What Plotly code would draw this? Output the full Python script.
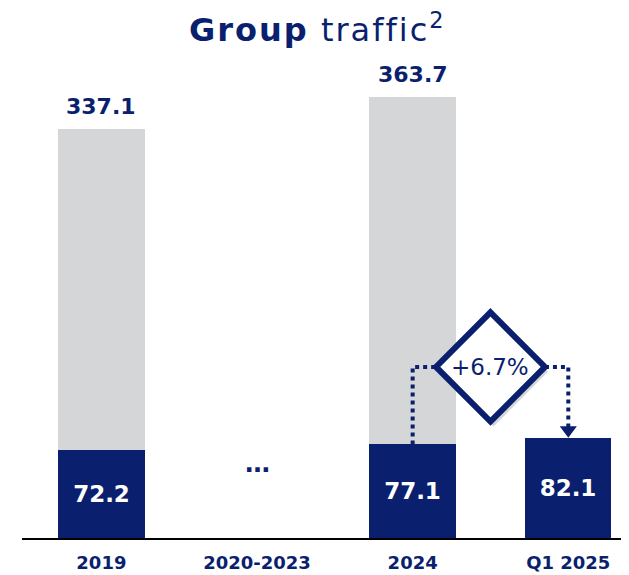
import plotly.graph_objects as go

categories = ["2019", "2020-2023", "2024", "Q1 2025"]
full_year = [337.1, None, 363.7, None]
q1_traffic = [72.2, None, 77.1, 82.1]
growth_label = "+6.7%"

NAVY = "#0b1f6f"
GRAY = "#d5d6d8"
FONT = "DejaVu Sans"

x = list(range(len(categories)))
bar_w = 0.555

fig = go.Figure()

# full-year grey bars (behind)
fig.add_trace(go.Bar(
    x=x, y=full_year, width=bar_w, marker=dict(color=GRAY, line=dict(width=0)),
    hoverinfo="skip",
))
# Q1 navy bars
fig.add_trace(go.Bar(
    x=x, y=q1_traffic, width=bar_w, marker=dict(color=NAVY, line=dict(width=0)),
    text=[f"<b>{v}</b>" if v else "" for v in q1_traffic],
    textposition="inside", insidetextanchor="middle",
    textfont=dict(color="white", size=23, family=FONT),
    hoverinfo="skip",
))

# full-year totals above the grey bars
for xi, v in zip(x, full_year):
    if v:
        fig.add_annotation(x=xi, y=v, text=f"<b>{v}</b>", showarrow=False, yanchor="bottom",
                           yshift=8, font=dict(color=NAVY, size=22, family=FONT))

# "..." placeholder for the gap years
fig.add_annotation(x=1, y=q1_traffic[0] * 0.85, text="<b>…</b>", showarrow=False,
                   font=dict(color=NAVY, size=25, family=FONT))

# growth connector: 2024 Q1 -> Q1 2025
x0, x1 = 2, 3
y0, y1 = q1_traffic[2], q1_traffic[3]
yc = 141
xm = (x0 + x1) / 2
hw, hh = 0.35, 45

dot = dict(color=NAVY, width=4, dash="dot")
fig.add_shape(type="path", path=f"M {x0},{y0} L {x0},{yc} L {xm - hw},{yc}", line=dot, layer="above")
fig.add_shape(type="path", path=f"M {xm + hw},{yc} L {x1},{yc} L {x1},{y1 + 9}", line=dot, layer="above")
fig.add_shape(type="path",
              path=f"M {x1 - 0.055},{y1 + 10} L {x1 + 0.055},{y1 + 10} L {x1},{y1 + 0.5} Z",
              fillcolor=NAVY, line=dict(width=0), layer="above")

# diamond shadow + diamond
sx, sy = 0.02, -4
fig.add_shape(type="path",
              path=f"M {xm + sx},{yc + hh + sy} L {xm + hw + sx},{yc + sy} L {xm + sx},{yc - hh + sy} L {xm - hw + sx},{yc + sy} Z",
              fillcolor="rgba(0,0,0,0.16)", line=dict(width=0), layer="above")
fig.add_shape(type="path",
              path=f"M {xm},{yc + hh} L {xm + hw},{yc} L {xm},{yc - hh} L {xm - hw},{yc} Z",
              fillcolor="white", line=dict(color=NAVY, width=6), layer="above")
fig.add_annotation(x=xm, y=yc, text=growth_label, showarrow=False,
                   font=dict(color=NAVY, size=23, family=FONT))

# title
fig.add_annotation(xref="paper", yref="paper", x=0.485, y=1.0, yshift=32,
                   text="<span style='letter-spacing:2px'><b>Group</b> traffic</span><sup>2</sup>",
                   showarrow=False,
                   font=dict(color=NAVY, size=32, family=FONT), xanchor="center", yanchor="middle")

# page body has an 8px margin, so the figure is offset by 8px
fig.update_layout(
    barmode="overlay", showlegend=False,
    width=621, height=567, autosize=False,
    margin=dict(l=14, r=0, t=52, b=37),
    paper_bgcolor="white", plot_bgcolor="white",
    xaxis=dict(range=[-0.51, 3.39], tickvals=x, ticktext=[f"<b>{c}</b>" for c in categories],
               tickfont=dict(color=NAVY, size=18, family=FONT), showgrid=False, zeroline=False,
               showline=True, linecolor="black", linewidth=2, ticks="", ticklabelstandoff=7,
               fixedrange=True),
    yaxis=dict(range=[0, 394], visible=False, showgrid=False, zeroline=False, fixedrange=True),
    bargap=0,
)

fig.write_html("out.html")
